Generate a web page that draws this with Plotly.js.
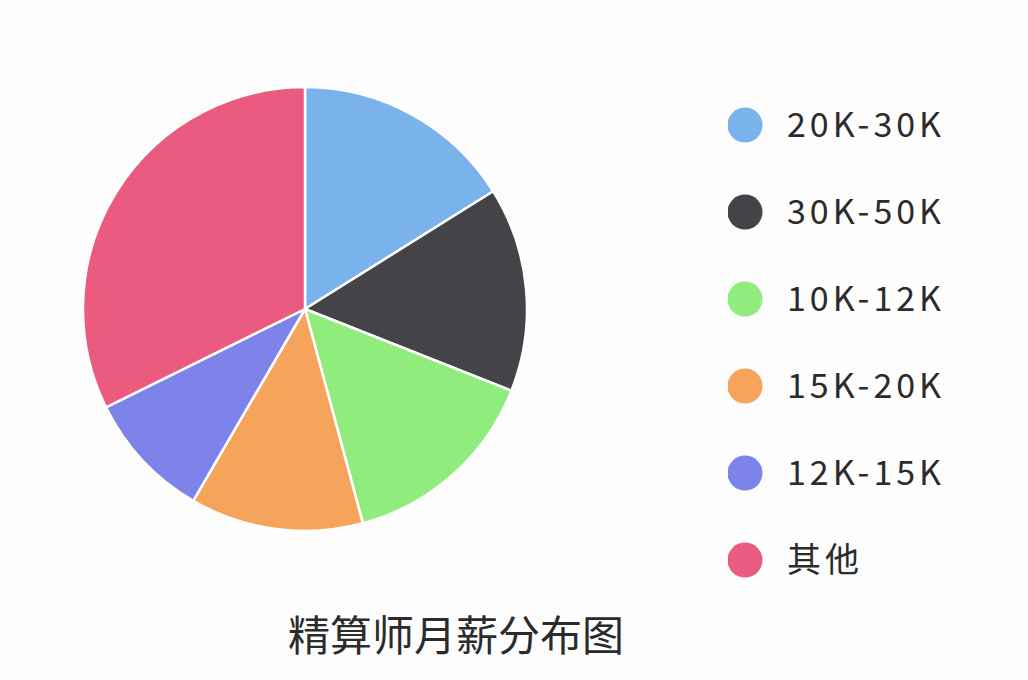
<!DOCTYPE html>
<html>
<head>
<meta charset="utf-8">
<script src="https://cdn.plot.ly/plotly-3.0.1.min.js"></script>
<style>
  html, body { margin: 0; padding: 0; background: #fdfdfd; }
  #chart { width: 1028px; height: 680px; }
  /* the legend labels are set with a bit of tracking, sitting slightly low */
  #chart .textpoint text { letter-spacing: 4px; transform: translateY(3px); }
</style>
</head>
<body>
<div id="chart"></div>
<script>
// Salary bands, in the order they are drawn clockwise from 12 o'clock
const CATEGORIES = ["20K-30K", "30K-50K", "10K-12K", "15K-20K", "12K-15K", "其他"];
// Share of each band (%)
const SHARES = [16.1, 14.9, 14.8, 12.6, 9.3, 32.3];
const COLORS = ["#7ab3ec", "#434348", "#90ed7d", "#f6a45b", "#7d83e8", "#eb5b7f"];

const TITLE = "精算师月薪分布图";
const FONT = "'Noto Sans CJK SC', 'Noto Sans', sans-serif";
const TEXT_COLOR = "#2b2b2b";
const W = 1028;
const H = 680;

// Pie: centre (305, 309), radius 222 px
const pie = {
  type: "pie",
  labels: CATEGORIES,
  values: SHARES,
  sort: false,
  direction: "clockwise",
  rotation: 0,
  textinfo: "none",
  hoverinfo: "label+percent",
  marker: { colors: COLORS, line: { color: "#ffffff", width: 2.5 } },
  domain: { x: [83 / W, 527 / W], y: [(H - 531) / H, (H - 87) / H] },
  showlegend: false,
};

// Legend drawn as big round markers plus labels on a hidden axis pair
const legendDots = {
  type: "scatter",
  mode: "markers",
  x: CATEGORIES.map(() => 0),
  y: CATEGORIES,
  xaxis: "x",
  yaxis: "y",
  marker: { size: 35, color: COLORS, line: { width: 0 } },
  hoverinfo: "skip",
  showlegend: false,
};

const legendText = {
  type: "scatter",
  mode: "text",
  x: CATEGORIES.map(() => 1),
  y: CATEGORIES,
  text: CATEGORIES,
  textposition: "middle right",
  textfont: { family: FONT, size: 34, color: TEXT_COLOR },
  xaxis: "x",
  yaxis: "y",
  hoverinfo: "skip",
  showlegend: false,
};

const hidden = {
  visible: false,
  fixedrange: true,
  showgrid: false,
  zeroline: false,
};

const layout = {
  width: W,
  height: H,
  margin: { l: 0, r: 0, t: 0, b: 0 },
  paper_bgcolor: "#fdfdfd",
  plot_bgcolor: "rgba(0,0,0,0)",
  font: { family: FONT, color: TEXT_COLOR },
  title: {
    text: TITLE,
    font: { family: FONT, size: 42, color: TEXT_COLOR },
    x: 456 / W,
    xanchor: "center",
    y: (H - 636) / H,
    yanchor: "middle",
  },
  xaxis: Object.assign({}, hidden, {
    domain: [728 / W, 1],
    range: [-0.405, 6.738],
  }),
  yaxis: Object.assign({}, hidden, {
    domain: [0, 1],
    type: "category",
    range: [6.379, -1.437],
  }),
  showlegend: false,
};

Plotly.newPlot("chart", [pie, legendDots, legendText], layout, {
  displayModeBar: false,
  staticPlot: true,
});
</script>
</body>
</html>
